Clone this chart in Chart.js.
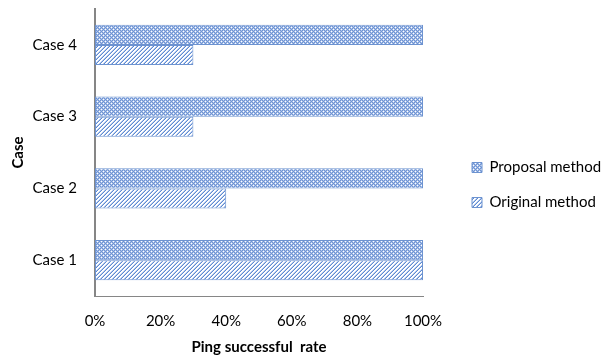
<!DOCTYPE html>
<html>
<head>
<meta charset="utf-8">
<script src="https://cdn.jsdelivr.net/npm/chart.js@4"></script>
<style>
  html, body { margin: 0; padding: 0; background: #fff; }
</style>
</head>
<body>
<canvas id="myChart" width="605" height="356"></canvas>
<script>
  "use strict";

  // data, top to bottom as drawn
  const cases = ["Case 4", "Case 3", "Case 2", "Case 1"];
  const proposalRate = [100, 100, 100, 100];
  const originalRate = [30, 30, 40, 100];
  const rateTicks = [0, 20, 40, 60, 80, 100];

  // 4x4 tile, colour picked per pixel
  const makePattern = (pick) => {
    const c = document.createElement("canvas");
    c.width = 4;
    c.height = 4;
    const g = c.getContext("2d");
    for (let x = 0; x < 4; x++) {
      for (let y = 0; y < 4; y++) {
        g.fillStyle = pick(x, y);
        g.fillRect(x, y, 1, 1);
      }
    }
    return g.createPattern(c, "repeat");
  };

  // lattice with white holes
  const crossFill = makePattern((x, y) => {
    if ((x === 1 && y === 1) || (x === 3 && y === 3)) return "#ffffff";
    if ((x + y) % 2 === 1) return "#aac1ea";
    return "#6f94d2";
  });
  // diagonal "/" hatching
  const diagFill = makePattern((x, y) => {
    const k = (x + y) % 4;
    if (k === 3) return "#5f8bd0";
    if (k === 2) return "#b3c8ee";
    return "#ffffff";
  });

  // move the legend items right and a bit down, keep room for the text
  const legendShift = {
    id: "legendShift",
    afterLayout(chart) {
      const lg = chart.legend;
      if (lg) {
        lg.left += 29;
        lg.right = chart.width;
        lg.width = lg.right - lg.left;
        lg.top += 7;
        lg.bottom += 7;
      }
    },
  };

  Chart.defaults.font.family = "Lato, 'Open Sans', sans-serif";
  Chart.defaults.font.size = 15;
  Chart.defaults.color = "#000";

  const ctx = document.getElementById("myChart").getContext("2d");
  const chart = new Chart(ctx, {
    type: "bar",
    data: {
      labels: cases,
      datasets: [
        {
          label: "Proposal method",
          data: proposalRate,
          backgroundColor: crossFill,
          borderColor: "#6d93d0",
          borderWidth: 1,
          borderSkipped: false,
          categoryPercentage: 0.56,
          barPercentage: 1,
        },
        {
          label: "Original method",
          data: originalRate,
          backgroundColor: diagFill,
          borderColor: "#6d93d0",
          borderWidth: 1,
          borderSkipped: false,
          categoryPercentage: 0.56,
          barPercentage: 1,
        },
      ],
    },
    options: {
      indexAxis: "y",
      responsive: false,
      animation: false,
      layout: {
        padding: { left: 9, top: 0, right: 44, bottom: 0 },
      },
      scales: {
        x: {
          min: 0,
          max: 100,
          afterBuildTicks: (scale) => {
            scale.ticks = rateTicks.map((v) => ({ value: v }));
          },
          afterFit: (scale) => {
            scale.height = 60;
          },
          ticks: {
            padding: 16,
            callback: (v) => v + "%",
          },
          grid: { display: false, drawTicks: false },
          border: { display: true, color: "#868686", width: 1 },
          title: {
            display: true,
            text: "Ping successful  rate",
            font: { weight: "bold", size: 15 },
            padding: { top: 0, bottom: 0 },
          },
        },
        y: {
          afterFit: (scale) => {
            scale.width = 86;
            scale.paddingTop = 9;
            scale.paddingBottom = 0;
          },
          ticks: { padding: 18 },
          grid: { display: false, drawTicks: false },
          border: { display: true, color: "#868686", width: 2 },
          title: {
            display: true,
            text: "Case",
            font: { weight: "bold", size: 15 },
            padding: { top: 0, bottom: 0 },
          },
        },
      },
      plugins: {
        legend: {
          position: "right",
          labels: {
            boxWidth: 10,
            boxHeight: 10,
            padding: 20,
            color: "#000",
          },
        },
        tooltip: { enabled: false },
      },
    },
    plugins: [legendShift],
  });
</script>
</body>
</html>
